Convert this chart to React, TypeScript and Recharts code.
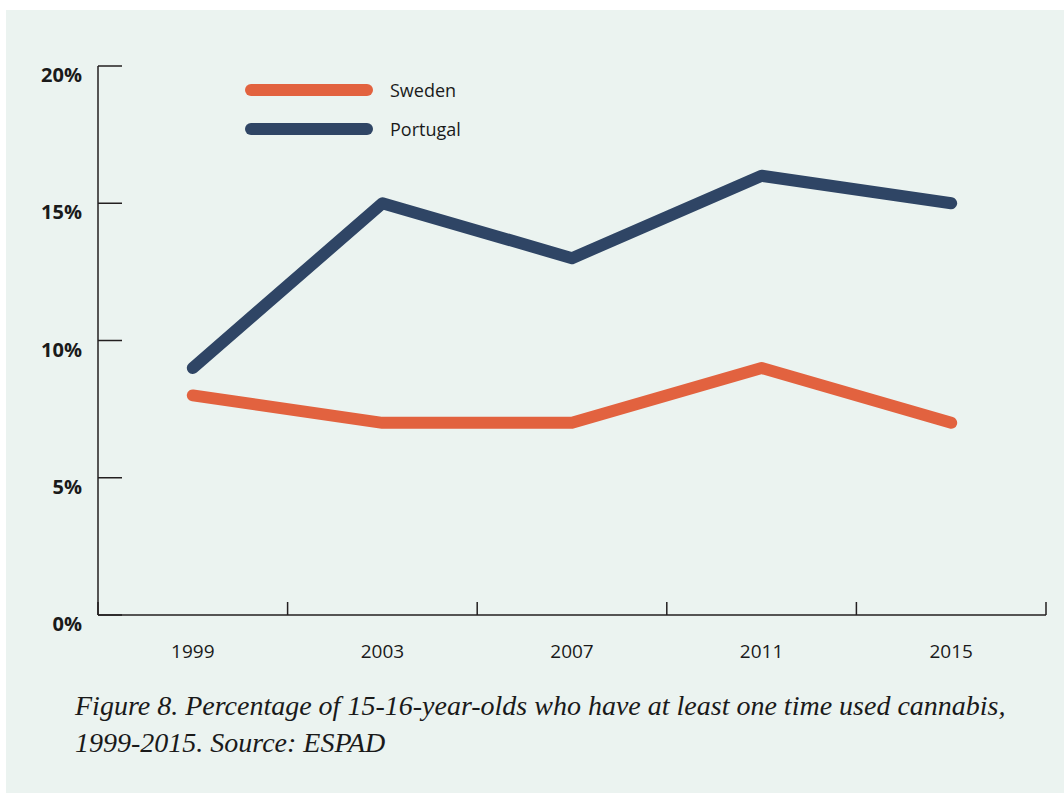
import React from 'react';
import { LineChart, Line, XAxis, YAxis } from 'recharts';

const years = [1999, 2003, 2007, 2011, 2015];
const sweden = [8, 7, 7, 9, 7];
const portugal = [9, 15, 13, 16, 15];
const yTicks = [0, 5, 10, 15, 20];
// band edges between survey years, drawn as small tick marks
const xEdges = [1997, 2001, 2005, 2009, 2013, 2017];

const series = [
  { key: 'sweden', name: 'Sweden', color: '#e2623f' },
  { key: 'portugal', name: 'Portugal', color: '#2f4565' },
];

const data = years.map((year, i) => ({ year, sweden: sweden[i], portugal: portugal[i] }));

const axisColor = '#231f20';
const sans = '"Open Sans", "Noto Sans", sans-serif';

function XTick(props: any) {
  const { x, y, payload } = props;
  const isYear = years.includes(payload.value);
  if (isYear) {
    return (
      <text x={x} y={y + 43} textAnchor="middle" fontFamily={sans} fontSize={19} fill="#1a1a1a">
        {payload.value}
      </text>
    );
  }
  return <line x1={x} x2={x} y1={y} y2={y - 13} stroke={axisColor} strokeWidth={1.5} />;
}

function YTick(props: any) {
  const { x, y, payload } = props;
  return (
    <g>
      <line x1={x} x2={x + 24} y1={y} y2={y} stroke={axisColor} strokeWidth={1.5} />
      <text x={x - 16} y={y + 16} textAnchor="end" fontFamily={sans} fontWeight={700} fontSize={20} fill="#1a1a1a">
        {payload.value}%
      </text>
    </g>
  );
}

export default function App() {
  return (
    <div style={{ position: 'absolute', left: 0, top: 0, width: 1064, height: 795, background: '#ffffff' }}>
      <div style={{ position: 'absolute', left: 6, top: 10, width: 1058, height: 783, background: '#ebf3f0' }} />
      <div style={{ position: 'absolute', left: 0, top: 0 }}>
        <LineChart width={1064} height={665} data={data} margin={{ top: 66, right: 18, bottom: 0, left: 0 }}>
          <XAxis
            dataKey="year"
            type="number"
            domain={[xEdges[0], xEdges[xEdges.length - 1]]}
            ticks={[...xEdges, ...years].sort((a, b) => a - b)}
            interval={0}
            height={50}
            tickSize={0}
            tickMargin={0}
            tickLine={false}
            axisLine={{ stroke: axisColor, strokeWidth: 1.5 }}
            tick={<XTick />}
          />
          <YAxis
            domain={[0, 20]}
            ticks={yTicks}
            width={98}
            tickSize={0}
            tickMargin={0}
            tickLine={false}
            axisLine={{ stroke: axisColor, strokeWidth: 1.5 }}
            tick={<YTick />}
          />
          {series.map((s) => (
            <Line
              key={s.key}
              dataKey={s.key}
              name={s.name}
              stroke={s.color}
              strokeWidth={12}
              strokeLinecap="round"
              strokeLinejoin="round"
              dot={false}
              activeDot={false}
              type="linear"
              isAnimationActive={false}
            />
          ))}
        </LineChart>
      </div>
      <div style={{ position: 'absolute', left: 245, top: 70 }}>
        {series.map((s) => (
          <div key={s.key} style={{ display: 'flex', alignItems: 'center', height: 39 }}>
            <div style={{ width: 128, height: 12, borderRadius: 6, background: s.color }} />
            <span style={{ marginLeft: 17, fontFamily: sans, fontSize: 18, color: '#1a1a1a' }}>{s.name}</span>
          </div>
        ))}
      </div>
      <div
        style={{
          position: 'absolute',
          left: 75,
          top: 687,
          fontFamily: '"Liberation Serif", serif',
          fontStyle: 'italic',
          fontSize: 28,
          lineHeight: '37px',
          color: '#1a1a1a',
          width: 985,
        }}
      >
        Figure 8. Percentage of 15-16-year-olds who have at least one time used cannabis,
        <br />
        1999-2015. Source: ESPAD
      </div>
    </div>
  );
}
